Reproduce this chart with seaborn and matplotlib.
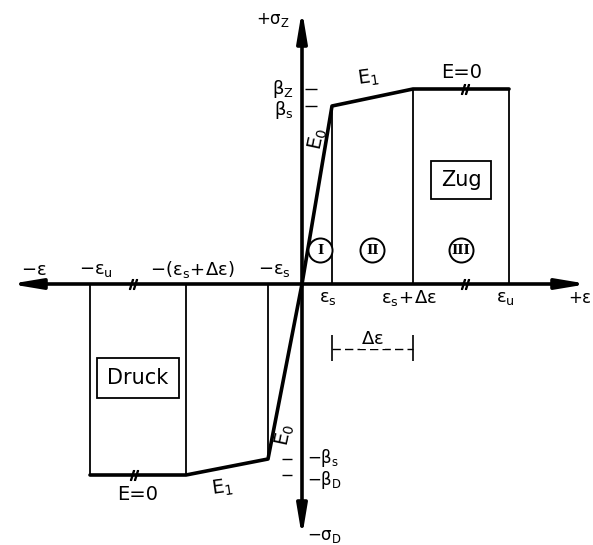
import numpy as np
import pandas as pd
import matplotlib
matplotlib.use("Agg")
import matplotlib.pyplot as plt
import seaborn as sns

eps_zug = [0, 30, 111, 207]        # 0, eps_s, eps_s+d_eps, eps_u
sig_zug = [0, 178, 195, 195]       # 0, beta_s, beta_z, beta_z
eps_druck = [0, -34, -116, -212]   # 0, -eps_s, -(eps_s+d_eps), -eps_u
sig_druck = [0, -175, -191, -191]  # 0, -beta_s, -beta_D, -beta_D

lab_eps_zug = [r"$\varepsilon_s$", r"$\varepsilon_s\!+\!\Delta\varepsilon$", r"$\varepsilon_u$"]
lab_eps_druck = [r"$-\varepsilon_s$", r"$-(\varepsilon_s\!+\!\Delta\varepsilon)$", r"$-\varepsilon_u$"]
lab_sig_zug = [r"$\beta_s$", r"$\beta_Z$"]
lab_sig_druck = [r"$-\beta_s$", r"$-\beta_D$"]
bereiche = ["I", "II", "III"]

sns.set_style("white")
plt.rcParams["font.family"] = ["DejaVu Sans"]
plt.rcParams["text.color"] = "black"
plt.rcParams["mathtext.default"] = "regular"
plt.rcParams["mathtext.fontset"] = "dejavusans"

fig = plt.figure(figsize=(5.93, 5.45), dpi=100)
ax = fig.add_axes([0, 0, 1, 1])
ax.set_xlim(-302, 291)
ax.set_ylim(-261, 284)
ax.axis("off")

# Achsen mit Pfeilen
arrow = dict(arrowstyle="<|-|>,head_length=1.8,head_width=0.3", mutation_scale=10,
             lw=2.6, color="k", shrinkA=0, shrinkB=0)
ax.annotate("", xy=(286, 0), xytext=(-292, 0), arrowprops=arrow)
ax.annotate("", xy=(0, 274), xytext=(0, -253), arrowprops=arrow)

# Kennlinie
df = pd.DataFrame({"eps": eps_druck[::-1] + eps_zug[1:],
                   "sig": sig_druck[::-1] + sig_zug[1:]})
sns.lineplot(data=df, x="eps", y="sig", sort=False, estimator=None,
             color="k", lw=2.6, ax=ax)

# senkrechte Begrenzungen
ax.vlines(eps_zug[1:], 0, sig_zug[1:], color="k", lw=1.3)
ax.vlines(eps_druck[1:], 0, sig_druck[1:], color="k", lw=1.3)

# kleine Markierungen an der Spannungsachse
ax.hlines(sig_zug[1:3], 3, 15, color="k", lw=1.0)
ax.hlines(sig_druck[1:3], -20, -10, color="k", lw=1.0)

# Bruchstriche
brk = dict(marker=r"$//$", ms=7, ls="none", color="k")
ax.plot([163, -169], [0, 0], **brk)
ax.plot([163], [sig_zug[3]], **brk)
ax.plot([-168], [sig_druck[3]], **brk)

fs = 13
# Dehnungs-Beschriftung
for x, t in zip(eps_zug[1:], lab_eps_zug):
    ax.text(x - 4, -14, t, ha="center", va="center", fontsize=fs)
for x, t in zip(eps_druck[1:], lab_eps_druck):
    ax.text(x + 6, 14, t, ha="center", va="center", fontsize=fs)
ax.text(-268, 14, r"$-\varepsilon$", ha="center", va="center", fontsize=fs)
ax.text(290, -14, r"$+\varepsilon$", ha="right", va="center", fontsize=fs - 1)

# Spannungs-Beschriftung
for y, t in zip(sig_zug[1:3], lab_sig_zug):
    ax.text(-8, y - (4 if t == lab_sig_zug[0] else 0), t, ha="right", va="center", fontsize=fs)
for y, t in zip(sig_druck[1:3], lab_sig_druck):
    ax.text(5, y + (1 if t == lab_sig_druck[0] else -5), t, ha="left", va="center", fontsize=fs - 1)
ax.text(-12, 264, r"$+\sigma_Z$", ha="right", va="center", fontsize=fs - 1)
ax.text(5, -252, r"$-\sigma_D$", ha="left", va="center", fontsize=fs - 1)

# Moduln
ax.text(16, 145, r"$E_0$", rotation=78, ha="center", va="center", fontsize=fs + 1)
ax.text(-17, -151, r"$E_0$", rotation=78, ha="center", va="center", fontsize=fs + 1)
ax.text(66, 206, r"$E_1$", rotation=8, ha="center", va="center", fontsize=fs + 1)
ax.text(-80, -204, r"$E_1$", rotation=8, ha="center", va="center", fontsize=fs + 1)
ax.text(160, 211, "E=0", ha="center", va="center", fontsize=fs + 1)
ax.text(-164, -211, "E=0", ha="center", va="center", fontsize=fs + 1)

# Bereiche I, II, III (Kreise gleicher Größe)
xb = [(eps_zug[i] + eps_zug[i + 1]) / 2 for i in range(3)]
xb[0] += 3
ax.scatter(xb, [34] * 3, s=300, facecolor="white", edgecolor="k", linewidth=1.4, zorder=3)
for x, t in zip(xb, bereiche):
    ax.text(x, 34, t, ha="center", va="center", fontsize=9.5,
            family="DejaVu Serif", weight="bold", zorder=4)

# Zug / Druck
ax.text(xb[2], 104, "Zug", ha="center", va="center", fontsize=fs + 2,
        bbox=dict(boxstyle="square,pad=0.45", fc="white", ec="k", lw=1.3))
ax.text((eps_druck[2] + eps_druck[3]) / 2, -94, "Druck", ha="center", va="center",
        fontsize=fs + 2, bbox=dict(boxstyle="square,pad=0.5", fc="white", ec="k", lw=1.3))

# Bemaßung Delta eps
ax.plot(eps_zug[1:3], [-65, -65], color="k", lw=1.0, ls=(0, (6, 3)))
ax.vlines(eps_zug[1:3], -51, -77, color="k", lw=1.2)
ax.text((eps_zug[1] + eps_zug[2]) / 2, -55, r"$\Delta\varepsilon$", ha="center",
        va="center", fontsize=fs, bbox=dict(fc="white", ec="none", pad=0.5))

fig.savefig("out.png", dpi=100)
